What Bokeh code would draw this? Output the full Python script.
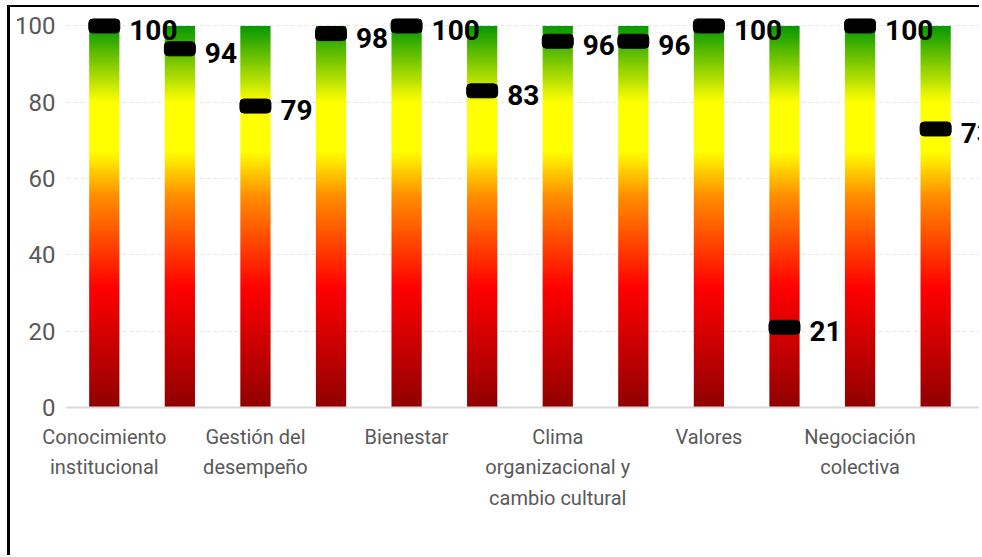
import numpy as np
from bokeh.plotting import figure
from bokeh.models import ColumnDataSource, FixedTicker
from bokeh.core.properties import value
from bokeh.embed import file_html
from bokeh.resources import INLINE

# ---- data ----
values = [100, 94, 79, 98, 100, 83, 96, 96, 100, 21, 100, 73]
tick_positions = [0, 2, 4, 6, 8, 10]
tick_labels = [
    "Conocimiento\ninstitucional",
    "Gestión del\ndesempeño",
    "Bienestar",
    "Clima\norganizacional y\ncambio cultural",
    "Valores",
    "Negociación\ncolectiva",
]
scale_max = 100
y_ticks = [0, 20, 40, 60, 80, 100]

# ---- style: gradient colour stops (fraction of bar height -> RGB) ----
stop_pos = [0.0, 0.31, 0.55, 0.67, 0.80, 1.0]
stop_rgb = [(145, 0, 0), (255, 0, 0), (255, 140, 0), (255, 255, 0), (255, 255, 0), (5, 152, 0)]

N = 400
frac = np.linspace(0, 1, N)
grad = np.empty((N, 1), dtype=np.uint32)
view = grad.view(dtype=np.uint8).reshape((N, 1, 4))
for ch in range(3):
    view[:, 0, ch] = np.interp(frac, stop_pos, [c[ch] for c in stop_rgb]).astype(np.uint8)
view[:, 0, 3] = 255

idx = list(range(len(values)))
bar_w = 0.4

bars = ColumnDataSource(dict(
    image=[grad] * len(values),
    x=[i - bar_w / 2 for i in idx],
    y=[0] * len(values),
    dw=[bar_w] * len(values),
    dh=[scale_max] * len(values),
))
marks = ColumnDataSource(dict(x=idx, y=values, label=[str(v) for v in values]))

FONT = "Roboto"

p = figure(
    width=972, height=550,
    x_range=(-0.5, 11.62), y_range=(0, 103),
    output_backend="svg", toolbar_location=None,
    min_border_left=56, min_border_right=0, min_border_top=7, min_border_bottom=150,
)
p.styles = {"border-top": "2px solid black", "border-left": "3px solid black"}
p.margin = (5, 0, 0, 7)
p.outline_line_color = None
p.background_fill_color = "white"

p.image_rgba(image="image", x="x", y="y", dw="dw", dh="dh", source=bars)
p.rect(x="x", y="y", width=0.41, height=14, height_units="screen",
       fill_color="black", line_color="black", border_radius=4, source=marks)
p.text(x="x", y="y", text="label", source=marks, x_offset=25, y_offset=4,
       text_font=value(FONT), text_font_size="28px",
       text_font_style="bold", text_baseline="middle", text_align="left",
       text_color="black")

# grid
p.xgrid.visible = False
p.ygrid.ticker = FixedTicker(ticks=[t for t in y_ticks if t > 0])
p.ygrid.grid_line_color = "#e6e6e6"
p.ygrid.grid_line_dash = "4 3"
p.ygrid.grid_line_width = 1

# y axis
p.yaxis.ticker = FixedTicker(ticks=y_ticks)
p.yaxis.axis_line_color = None
p.yaxis.major_tick_line_color = None
p.yaxis.major_tick_out = 0
p.yaxis.major_tick_in = 0
p.yaxis.minor_tick_line_color = None
p.yaxis.minor_tick_out = 0
p.yaxis.major_label_text_font = FONT
p.yaxis.major_label_text_font_size = "24px"
p.yaxis.major_label_text_color = "#595959"
p.yaxis.major_label_standoff = 11

# x axis
p.xaxis.ticker = FixedTicker(ticks=tick_positions)
p.xaxis.major_label_overrides = {pos: lab for pos, lab in zip(tick_positions, tick_labels)}
p.xaxis.axis_line_color = "#d9d9d9"
p.xaxis.axis_line_width = 2
p.xaxis.major_tick_line_color = None
p.xaxis.major_tick_out = 0
p.xaxis.major_tick_in = 0
p.xaxis.minor_tick_line_color = None
p.xaxis.minor_tick_out = 0
p.xaxis.major_label_text_font = FONT
p.xaxis.major_label_text_font_size = "20px"
p.xaxis.major_label_text_line_height = 1.28
p.xaxis.major_label_text_color = "#595959"
p.xaxis.major_label_standoff = 17

open("out.html", "w").write(file_html(p, INLINE))
